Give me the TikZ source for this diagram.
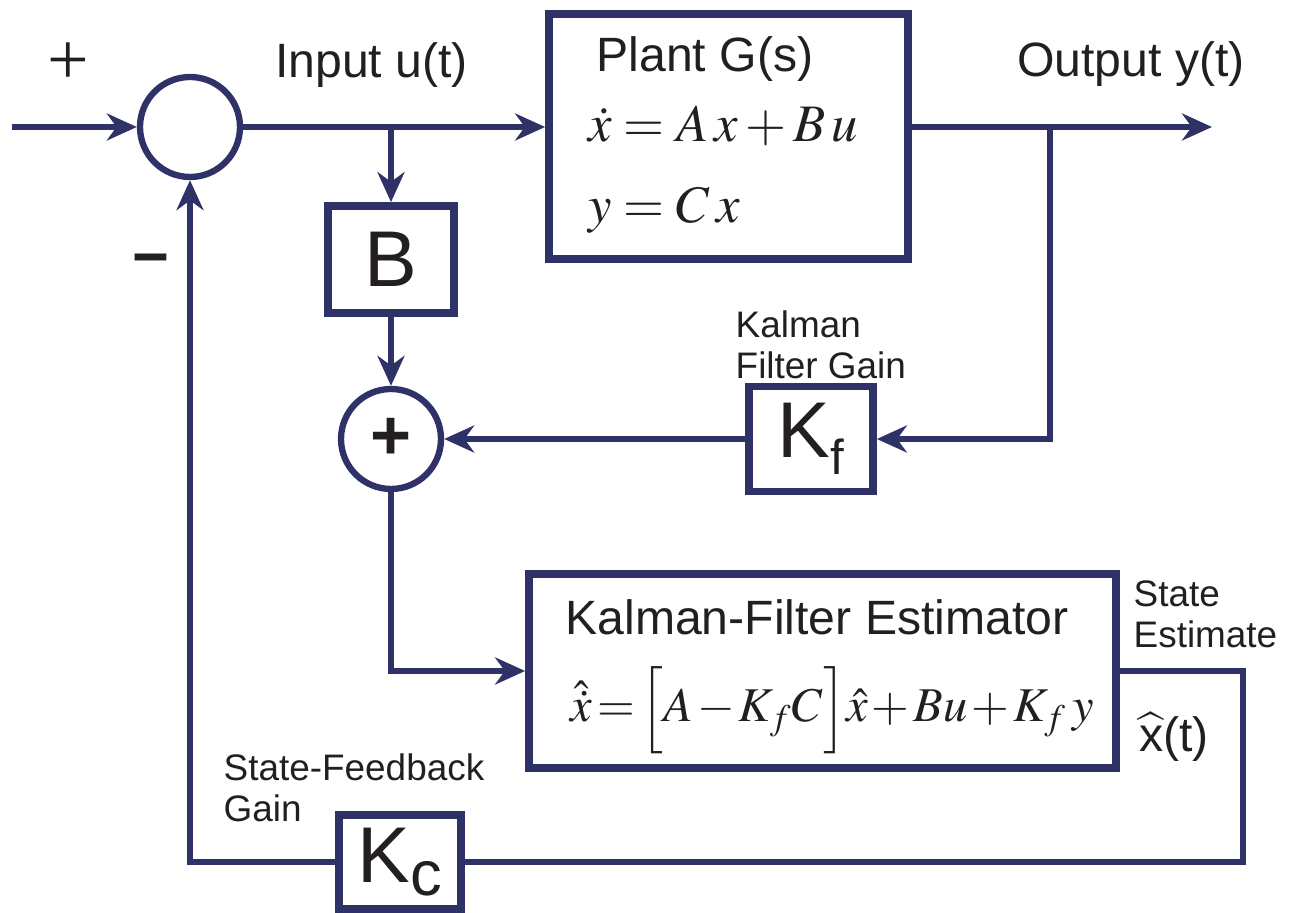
\documentclass[tikz,border=0pt]{standalone}
\usepackage{mathptmx}
\usepackage[no-math]{fontspec}
\setmainfont{Liberation Sans}
\newfontfamily\signfont{Liberation Serif}
\usepackage{xcolor}
\usetikzlibrary{arrows.meta, positioning, calc}
\definecolor{navy}{HTML}{2E3267}
\definecolor{ink}{HTML}{231F20}
\newcommand{\sigfont}{\fontsize{13.7}{16}\selectfont}
\newcommand{\notefont}{\fontsize{10.5}{11.6}\selectfont}
\newcommand{\gainfont}{\fontsize{22.5}{24}\selectfont}
\newcommand{\eqfont}{\fontsize{15}{18}\selectfont}
\tikzset{
	wire/.style={draw=navy, line width=1.6pt},
	line/.style={wire, -{Stealth[length=0.3cm, width=0.27cm]}},
	block/.style={rectangle, draw=navy, line width=2.2pt, fill=white, inner sep=0pt, text=ink},
	junction/.style={circle, draw=navy, line width=1.8pt, fill=white, minimum size=1.0cm, inner sep=0pt, text=ink},
	sig/.style={text=ink, font=\sigfont, inner sep=0pt},
	gainnote/.style={text=ink, font=\notefont, align=left, inner sep=0pt, anchor=north west},
	eq/.style={text=ink, font=\eqfont, inner sep=0pt}
}

\begin{document}
\begin{tikzpicture}
	\useasboundingbox (0,0) rectangle (13.01,-9.13);
	
	% Summing junctions
	\node[junction] (sum1) at (1.90,-1.27) {};
	\node[junction] (sum2) at (3.91,-4.39) {\fontsize{20}{20}\selectfont\bfseries +};
	
	% Blocks
	\node[block, minimum width=3.59cm, minimum height=2.45cm] (plant) at (7.285,-1.365) {};
	\node[block, minimum width=1.26cm, minimum height=1.07cm] (B) at (3.91,-2.595) {\gainfont B};
	\node[block, minimum width=1.24cm, minimum height=1.05cm] (Kf) at (8.11,-4.39)
		{\gainfont K\raisebox{-0.17cm}{\fontsize{14}{14}\selectfont f}};
	\node[block, minimum width=5.87cm, minimum height=1.94cm] (est) at (8.225,-6.71) {};
	\node[block, minimum width=1.22cm, minimum height=0.94cm] (Kc) at (4.00,-8.62)
		{\gainfont K\raisebox{-0.13cm}{\fontsize{18}{18}\selectfont c}};
	
	% Texts inside the blocks
	\node[sig, anchor=base] (plantname) at (7.05,-0.72) {Plant G(s)};
	\node[eq, anchor=base west] (stateeq) at (5.88,-1.42) {$\dot{x} = A\,x + B\,u$};
	\node[eq, anchor=base west] (outeq) at (5.88,-2.23) {$y = C\,x$};
	\node[sig, anchor=base] (estname) at (8.17,-6.35) {Kalman-Filter Estimator};
	\node[eq, anchor=base, font=\fontsize{13.8}{16}\selectfont] (esteq) at (8.32,-7.22)
		{\medmuskip=1.5mu \thickmuskip=2mu
		$\hat{\dot{x}} = \Big[A - K_f C\Big]\hat{x} + B u + K_f\,y$};
	
	% Signal labels
	\node[sig, anchor=base] (ulabel) at (3.715,-0.78) {Input u(t)};
	\node[sig, anchor=base] (ylabel) at (11.31,-0.77) {Output y(t)};
	\node[sig, anchor=base] (xhat) at (11.74,-7.52) {$\widehat{\mbox{x}}$(t)};
	\node[text=ink, inner sep=0pt] (plus) at (0.68,-0.635) {\signfont\fontsize{21}{21}\selectfont +};
	\node[text=ink, inner sep=0pt, anchor=base] (minus) at (1.51,-2.79) {\fontsize{18}{18}\selectfont\bfseries −};
	\node[gainnote] (kfnote) at (7.35,-3.10) {Kalman\\Filter Gain};
	\node[gainnote] (senote) at (11.33,-5.80) {State\\Estimate};
	\node[gainnote] (kcnote) at (2.23,-7.53) {State-Feedback\\Gain};
	
	% Connections
	\coordinate (ref) at (0.12,-1.27);
	\coordinate (yout) at (12.12,-1.27);
	\coordinate (ybranch) at (10.50,-1.27);
	\coordinate (xturn) at (12.43,-8.62);
	\draw[line] (ref) -- (sum1.west);
	\draw[line] (sum1.east) -- (sum1.east -| plant.west);
	\draw[line] (sum1.east -| B.north) -- (B.north);
	\draw[line] (B.south) -- (sum2.north);
	\draw[line] (sum1.east -| plant.east) -- (yout);
	\draw[line] (ybranch) |- (Kf.east);
	\draw[line] (Kf.west) -- (sum2.east);
	\draw[line] (sum2.south) |- (est.west);
	\draw[wire] (est.east) -| (xturn) -- (Kc.east);
	\draw[line] (Kc.west) -| (sum1.south);
\end{tikzpicture}
\end{document}
